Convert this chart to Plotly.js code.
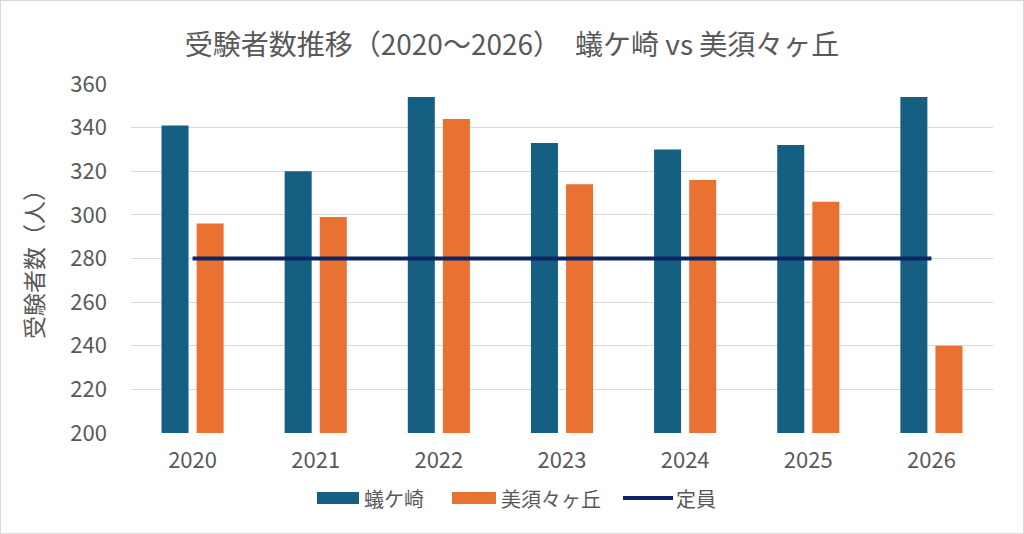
<!DOCTYPE html>
<html><head><meta charset="utf-8">
<script src="https://cdn.plot.ly/plotly-3.0.1.min.js"></script>
<style>html,body{margin:0;padding:0;background:#fff;}#chart{width:1022px;height:532px;border:1px solid #d9d9d9;}</style>
</head><body><div id="chart"></div>
<script>
const years = ['2020','2021','2022','2023','2024','2025','2026'];
const arigasaki = [341,320,354,333,330,332,354];
const misuzugaoka = [296,299,344,314,316,306,240];
const capacity = [280,280,280,280,280,280,280];
const seriesNames = ['蟻ケ崎','美須々ヶ丘','定員'];
const colors = ['#156082','#E97132','#0B2463'];
const font = '"Noto Sans CJK JP", "Noto Sans", sans-serif';

const W = 1022, H = 532, L = 130, R = 30, T = 83, B = 100;
const pw = W - L - R, ph = H - T - B;
const px = x => (x - L) / pw;
const py = y => (H - B - y) / ph;

const traces = [
  {type:'bar', x:years, y:arigasaki, name:seriesNames[0], marker:{color:colors[0]}, showlegend:false},
  {type:'bar', x:years, y:misuzugaoka, name:seriesNames[1], marker:{color:colors[1]}, showlegend:false},
  {type:'scatter', mode:'lines', x:years, y:capacity, name:seriesNames[2], line:{color:colors[2], width:4}, showlegend:false}
];

// custom legend
const legY = 497;
const items = [
  {x0:316, x1:358, tx:361, kind:'box'},
  {x0:451, x1:495, tx:498, kind:'box'},
  {x0:622, x1:672, tx:673, kind:'line'}
];
const shapes = [], annotations = [];
items.forEach((it,i)=>{
  if(it.kind==='box'){
    shapes.push({type:'rect', xref:'paper', yref:'paper', x0:px(it.x0), x1:px(it.x1), y0:py(legY+6), y1:py(legY-6), fillcolor:colors[i], line:{width:0}});
  } else {
    shapes.push({type:'line', xref:'paper', yref:'paper', x0:px(it.x0), x1:px(it.x1), y0:py(legY), y1:py(legY), line:{color:colors[i], width:4}});
  }
  annotations.push({xref:'paper', yref:'paper', x:px(it.tx), y:py(legY), xanchor:'left', yanchor:'middle', showarrow:false, text:seriesNames[i], font:{family:font, size:20, color:'#595959'}});
});

const layout = {
  width:W, height:H,
  margin:{l:L, r:R, t:T, b:B},
  paper_bgcolor:'#fff', plot_bgcolor:'#fff',
  font:{family:font, color:'#595959'},
  title:{text:'受験者数推移（2020～2026）　蟻ケ崎 vs 美須々ヶ丘', x:0.5, xanchor:'center', y:1-44/H, yanchor:'middle', font:{family:font, size:28, color:'#595959'}},
  barmode:'group', bargap:0.43, bargroupgap:0.23,
  xaxis:{type:'category', showgrid:false, zeroline:false, showline:false, ticks:'', tickfont:{family:font, size:22, color:'#595959'}, ticklabelstandoff:12},
  yaxis:{range:[200,360], dtick:20, tick0:200, showgrid:true, gridcolor:'#d9d9d9', gridwidth:1, zeroline:false, showline:false, ticks:'', tickfont:{family:font, size:22, color:'#595959'}, ticklabelstandoff:23,
    title:{text:'受験者数（人）', font:{family:font, size:23, color:'#595959'}, standoff:20}},
  shapes:shapes, annotations:annotations,
  showlegend:false
};
Plotly.newPlot('chart', traces, layout, {displayModeBar:false, staticPlot:true});
</script></body></html>
